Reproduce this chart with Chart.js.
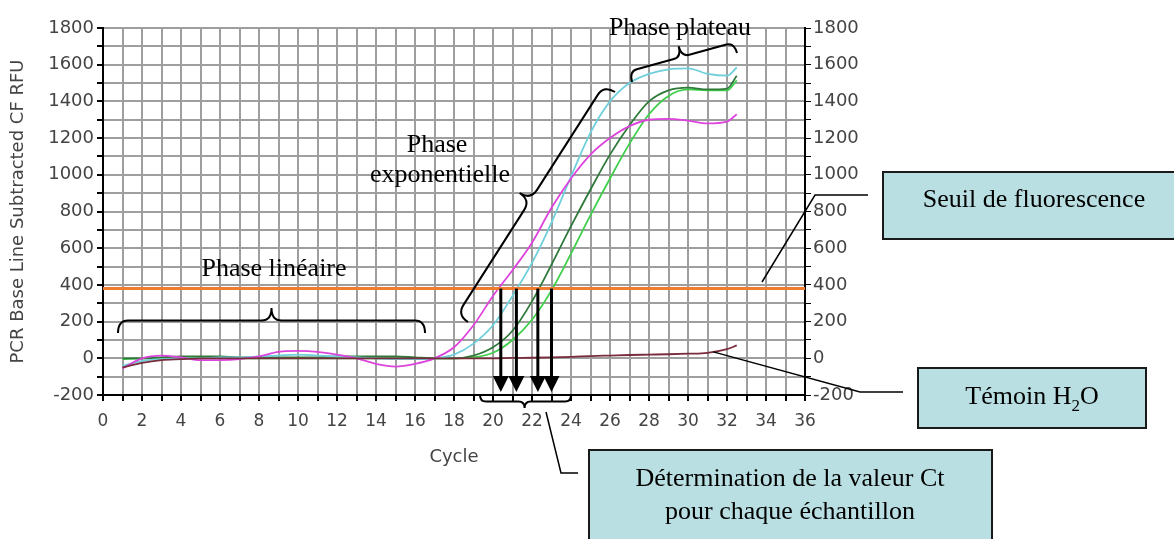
<!DOCTYPE html>
<html lang="fr">
<head>
<meta charset="utf-8">
<title>PCR en temps réel - courbes d'amplification</title>
<script src="https://cdn.jsdelivr.net/npm/chart.js@4"></script>
<style>
  html, body { margin: 0; background: #fff; }
  canvas { display: block; }
</style>
</head>
<body>
<canvas id="pcrChart" width="1174" height="539"></canvas>
<script>
// Cycles and fluorescence values (RFU)
const cycles = [1, 2, 3, 4, 5, 6, 7, 8, 9, 10, 11, 12, 13, 14, 15, 16, 17, 18, 19, 20,
                21, 22, 23, 24, 25, 26, 27, 28, 29, 30, 31, 32, 32.5];

const magenta = [-55, 0, 15, 5, -10, -10, -5, 10, 35, 40, 35, 20, 0, -30, -45, -30, 0, 60, 180, 340,
                 480, 630, 820, 980, 1110, 1200, 1265, 1300, 1305, 1295, 1280, 1290, 1330];
const cyan = [-40, -15, -5, 0, 0, 5, 5, 10, 15, 20, 15, 10, 5, 0, -5, -5, 0, 20, 80, 180,
              340, 520, 740, 990, 1230, 1400, 1500, 1550, 1575, 1580, 1550, 1540, 1585];
const darkGreen = [0, 0, 5, 10, 10, 10, 5, 5, 5, 5, 5, 10, 10, 10, 10, 5, 0, 0, 15, 60,
                   150, 310, 510, 720, 920, 1110, 1270, 1400, 1460, 1475, 1465, 1470, 1540];
const green = [-5, 0, 0, 5, 5, 5, 0, 0, 0, 0, 0, 0, 0, 0, 0, 0, 0, 0, 5, 30,
               100, 210, 370, 570, 780, 980, 1170, 1330, 1430, 1465, 1460, 1460, 1515];
const water = [-50, -25, -10, -5, 0, 0, 0, 0, 0, 0, 0, 0, 0, 0, 0, 0, 0, 0, 0, 0,
               2, 3, 5, 8, 12, 15, 18, 20, 22, 25, 30, 50, 70];

const threshold = 380;
const ctValues = [20.4, 21.2, 22.3, 23.0];

const xLabelled = [0, 2, 4, 6, 8, 10, 12, 14, 16, 18, 20, 22, 24, 26, 28, 30, 32, 34, 36];
const yLabelled = [-200, 0, 200, 400, 600, 800, 1000, 1200, 1400, 1600, 1800];

const gridColor = '#9e9e9e';
const sans = '"DejaVu Sans", Verdana, sans-serif';
const serif = '"Liberation Serif", "Times New Roman", serif';

const toPoints = vals => cycles.map((c, i) => ({ x: c, y: vals[i] }));

function curve(label, vals, color, width) {
    return {
        label: label,
        data: toPoints(vals),
        borderColor: color,
        borderWidth: width,
        pointRadius: 0,
        cubicInterpolationMode: 'monotone',
        fill: false
    };
}

// curly brace from (x1,y1) to (x2,y2), tip on the left of the walking direction
function brace(ctx, x1, y1, x2, y2, w, r, t) {
    const len = Math.hypot(x2 - x1, y2 - y1);
    const ux = (x2 - x1) / len, uy = (y2 - y1) / len;
    const nx = uy, ny = -ux;
    const P = (s, k) => [x1 + ux * s + nx * k, y1 + uy * s + ny * k];
    const h = w / 2, m = len * (t || 0.5);
    ctx.beginPath();
    ctx.moveTo(...P(0, 0));
    ctx.quadraticCurveTo(...P(0, h), ...P(r, h));
    ctx.lineTo(...P(m - r, h));
    ctx.quadraticCurveTo(...P(m, h), ...P(m, w));
    ctx.quadraticCurveTo(...P(m, h), ...P(m + r, h));
    ctx.lineTo(...P(len - r, h));
    ctx.quadraticCurveTo(...P(len, h), ...P(len, 0));
    ctx.stroke();
}

function polyline(ctx, pts) {
    ctx.beginPath();
    ctx.moveTo(pts[0][0], pts[0][1]);
    pts.slice(1).forEach(p => ctx.lineTo(p[0], p[1]));
    ctx.stroke();
}

function box(ctx, x, y, w, h) {
    ctx.fillStyle = '#b9dfe2';
    ctx.fillRect(x, y, w, h);
    ctx.strokeStyle = '#1a1a1a';
    ctx.lineWidth = 2;
    ctx.strokeRect(x, y, w, h);
}

const annotations = {
    id: 'annotations',
    afterDatasetsDraw(chart) {
        const ctx = chart.ctx;
        const xs = chart.scales.x, ys = chart.scales.y;
        ctx.save();

        // Ct arrows from the threshold line down to the x axis
        const yThr = ys.getPixelForValue(threshold);
        const yTip = ys.getPixelForValue(-200) - 3;
        ctx.fillStyle = '#000';
        ctx.strokeStyle = '#000';
        ctValues.forEach(ct => {
            const px = xs.getPixelForValue(ct);
            ctx.lineWidth = 3;
            ctx.beginPath();
            ctx.moveTo(px, yThr);
            ctx.lineTo(px, yTip - 14);
            ctx.stroke();
            ctx.beginPath();
            ctx.moveTo(px - 8, yTip - 16);
            ctx.lineTo(px + 8, yTip - 16);
            ctx.lineTo(px, yTip);
            ctx.closePath();
            ctx.fill();
        });

        // braces
        ctx.lineWidth = 2;
        brace(ctx, 118, 333, 425, 333, 25, 10, 0.5);
        brace(ctx, 468, 322, 615, 92, 26, 12, 0.5);
        brace(ctx, 632, 82, 737, 53, 22, 8, 0.5);
        brace(ctx, 571, 395, 480, 395, 13, 6, 0.51);

        // phase labels
        ctx.fillStyle = '#000';
        ctx.font = '26px ' + serif;
        ctx.textAlign = 'center';
        ctx.textBaseline = 'alphabetic';
        ctx.fillText('Phase linéaire', 274, 276);
        ctx.fillText('Phase', 437, 152);
        ctx.fillText('exponentielle', 440, 182);
        ctx.fillText('Phase plateau', 680, 35);

        // leader lines
        ctx.lineWidth = 1.5;
        polyline(ctx, [[762, 282], [815, 195], [868, 195]]);
        const wx = xs.getPixelForValue(31.3), wy = ys.getPixelForValue(35);
        polyline(ctx, [[wx, wy], [860, 392], [903, 392]]);
        polyline(ctx, [[546, 412], [561, 473], [578, 473]]);

        // boxes
        box(ctx, 883, 172, 300, 67);
        box(ctx, 918, 368, 228, 60);
        box(ctx, 589, 450, 403, 100);

        ctx.fillStyle = '#000';
        ctx.font = '26px ' + serif;
        ctx.fillText('Seuil de fluorescence', 1034, 207);
        ctx.fillText('Détermination de la valeur Ct', 790, 486);
        ctx.fillText('pour chaque échantillon', 790, 519);

        // Témoin H2O with subscript
        ctx.textAlign = 'left';
        const a = 'Témoin H', b = '2', c = 'O';
        const wa = ctx.measureText(a).width, wc = ctx.measureText(c).width;
        ctx.font = '17px ' + serif;
        const wb = ctx.measureText(b).width;
        const sx = 1032 - (wa + wb + wc) / 2;
        ctx.font = '26px ' + serif;
        ctx.fillText(a, sx, 404);
        ctx.font = '17px ' + serif;
        ctx.fillText(b, sx + wa, 411);
        ctx.font = '26px ' + serif;
        ctx.fillText(c, sx + wa + wb, 404);

        ctx.restore();
    }
};

new Chart(document.getElementById('pcrChart'), {
    type: 'line',
    data: {
        datasets: [
            {
                label: 'Seuil',
                data: [{ x: 0, y: threshold }, { x: 36, y: threshold }],
                borderColor: '#f07c30',
                borderWidth: 3,
                pointRadius: 0,
                fill: false
            },
            curve('Témoin H2O', water, '#7a2c3c', 1.8),
            curve('Échantillon 1', magenta, '#dd44dd', 1.8),
            curve('Échantillon 2', cyan, '#6fd0dc', 1.8),
            curve('Échantillon 3', darkGreen, '#2f7a3a', 1.8),
            curve('Échantillon 4', green, '#3fcf4a', 1.8)
        ]
    },
    options: {
        responsive: false,
        animation: false,
        devicePixelRatio: 1,
        layout: { padding: { left: 0, right: 309, top: 28, bottom: 71 } },
        plugins: {
            legend: { display: false },
            tooltip: { enabled: false }
        },
        scales: {
            x: {
                type: 'linear',
                min: 0,
                max: 36,
                afterFit: s => { s.height = 73; },
                border: { color: '#000', width: 2 },
                grid: { color: gridColor, lineWidth: 2, tickColor: '#000', tickLength: 6 },
                ticks: {
                    stepSize: 1,
                    autoSkip: false,
                    maxRotation: 0,
                    padding: 10,
                    color: '#444',
                    font: { family: sans, size: 17 },
                    callback: v => xLabelled.includes(v) ? v : ''
                },
                title: {
                    display: true,
                    text: 'Cycle',
                    color: '#444',
                    font: { family: sans, size: 18 },
                    padding: { top: 0, bottom: 0 }
                }
            },
            y: {
                position: 'left',
                min: -200,
                max: 1800,
                afterFit: s => { s.width = 103; },
                border: { color: '#000', width: 2 },
                grid: { color: gridColor, lineWidth: 2, tickColor: '#000', tickLength: 6 },
                ticks: {
                    stepSize: 100,
                    autoSkip: false,
                    padding: 3,
                    color: '#444',
                    font: { family: sans, size: 18 },
                    callback: v => yLabelled.includes(v) ? v : ''
                },
                title: {
                    display: true,
                    text: 'PCR Base Line Subtracted CF RFU',
                    color: '#444',
                    font: { family: sans, size: 18 },
                    padding: { top: 8, bottom: 0 }
                }
            },
            y2: {
                position: 'right',
                min: -200,
                max: 1800,
                afterFit: s => { s.width = 60; },
                border: { color: '#000', width: 2 },
                grid: { drawOnChartArea: false, tickColor: '#000', tickLength: 6 },
                ticks: {
                    stepSize: 100,
                    autoSkip: false,
                    padding: 2,
                    color: '#444',
                    font: { family: sans, size: 18 },
                    callback: v => yLabelled.includes(v) ? v : ''
                }
            }
        }
    },
    plugins: [annotations]
});
</script>
</body>
</html>
